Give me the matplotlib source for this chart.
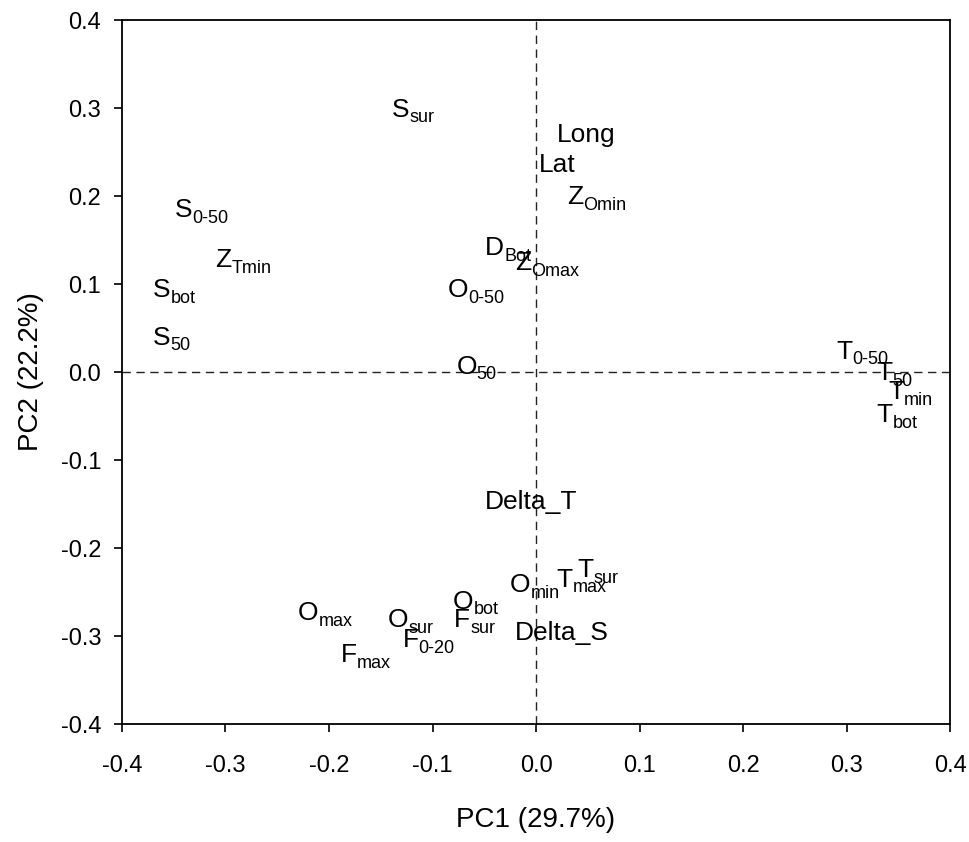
import matplotlib
matplotlib.use("Agg")
import matplotlib.pyplot as plt

plt.rcParams['font.family'] = ['Liberation Sans', 'DejaVu Sans']

# label text: (main part, subscript)
names = ["S", "Long", "Lat", "Z", "S", "D", "Z", "Z", "S", "O", "S", "O",
         "T", "T", "T", "T", "Delta_T", "O", "T", "T", "O", "O", "O", "F",
         "Delta_S", "F", "F"]
subs = ["sur", "", "", "Omin", "0-50", "Bot", "Omax", "Tmin", "bot", "0-50", "50", "50",
        "0-50", "50", "min", "bot", "", "min", "max", "sur", "bot", "max", "sur", "sur",
        "", "0-20", "max"]
pc1 = [-0.139, 0.020, 0.003, 0.030, -0.349, -0.049, -0.020, -0.310, -0.370, -0.085, -0.370, -0.077,
       0.290, 0.329, 0.340, 0.329, -0.049, -0.025, 0.020, 0.040, -0.080, -0.230, -0.143, -0.079,
       -0.020, -0.129, -0.189]
pc2 = [0.298, 0.269, 0.235, 0.199, 0.184, 0.141, 0.124, 0.127, 0.093, 0.093, 0.039, 0.006,
       0.023, -0.001, -0.023, -0.049, -0.148, -0.242, -0.236, -0.225, -0.261, -0.274, -0.282, -0.282,
       -0.297, -0.305, -0.322]

ticks = [-0.4, -0.3, -0.2, -0.1, 0.0, 0.1, 0.2, 0.3, 0.4]

fig = plt.figure(figsize=(9.69, 8.42), dpi=100)
ax = fig.add_axes([0.1259, 0.1401, 0.8545, 0.8361])

ax.axhline(0, color='#222222', lw=1, dashes=(6, 4))
ax.axvline(0, color='#222222', lw=1, dashes=(6, 4))

for main, sub, x, y in zip(names, subs, pc1, pc2):
    t = ax.text(x, y, main, ha='left', va='center', fontsize=19)
    if sub:
        ax.annotate(sub, xy=(1.0, 0.0), xycoords=t, xytext=(0, -0.5),
                    textcoords='offset points', ha='left', va='baseline', fontsize=13)

ax.set_xlim(-0.4, 0.4)
ax.set_ylim(-0.4, 0.4)
ax.set_xticks(ticks)
ax.set_yticks(ticks)
ax.set_xticklabels([f"{v:.1f}" for v in ticks])
ax.set_yticklabels([f"{v:.1f}" for v in ticks])
ax.tick_params(direction='out', length=6, width=1.2, labelsize=17, top=False, right=False)
ax.tick_params(axis='x', pad=16)
ax.tick_params(axis='y', pad=9)
for s in ax.spines.values():
    s.set_linewidth(1.3)

ax.set_xlabel("PC1 (29.7%)", fontsize=20, labelpad=22)
ax.set_ylabel("PC2 (22.2%)", fontsize=20, labelpad=12)

fig.savefig("out.png", dpi=100)
